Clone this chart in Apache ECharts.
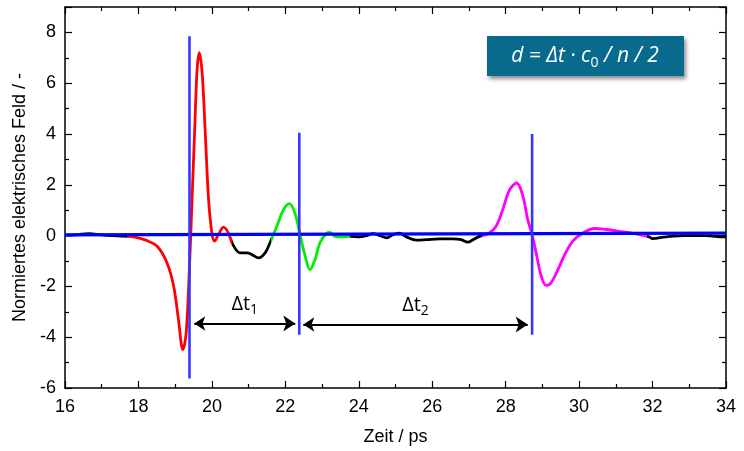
<!DOCTYPE html>
<html>
<head>
<meta charset="utf-8">
<script src="https://cdn.jsdelivr.net/npm/echarts@6/dist/echarts.min.js"></script>
<style>
  html, body { margin: 0; padding: 0; background: #fff; }
  #chart { width: 744px; height: 451px; }
</style>
</head>
<body>
<div id="chart"></div>
<script>
// Messkurve (Zeit in ps, normiertes Feld)
const zeit = [16.0, 16.3, 16.65, 17.0, 17.3, 17.6, 17.87, 18.2, 18.51, 18.78, 18.96, 19.09, 19.21, 19.30, 19.39,
  19.46, 19.54, 19.60, 19.66, 19.74, 19.82, 19.91, 20.00, 20.07, 20.18, 20.32, 20.45, 20.57, 20.77, 20.95, 21.09,
  21.27, 21.45, 21.58, 21.77, 21.95, 22.11, 22.26, 22.40, 22.54, 22.67, 22.81, 22.94, 23.13, 23.21, 23.35,
  23.53, 23.76, 24.03, 24.21, 24.39, 24.57, 24.76, 24.93, 25.10, 25.30, 25.57, 25.84, 26.20, 26.57, 26.79,
  26.97, 27.11, 27.29, 27.52, 27.74, 27.92, 28.11, 28.30, 28.47, 28.60, 28.72, 28.83, 28.97, 29.10, 29.24,
  29.42, 29.62, 29.83, 30.10, 30.42, 30.73, 31.09, 31.55, 31.91, 32.0, 32.36, 32.91, 33.45, 33.95, 34.0]
const feld = [0.02, 0.03, 0.08, 0.03, 0.0, -0.02, -0.05, -0.18, -0.42, -1.08, -2.0, -3.31, -4.49, -3.83, -1.21,
  1.42, 4.5, 6.6, 7.2, 6.3, 4.04, 1.42, 0.1, -0.22, 0.04, 0.33, 0.1, -0.35, -0.68, -0.68, -0.75,
  -0.88, -0.68, -0.29, 0.37, 1.02, 1.26, 0.89, 0.04, -0.81, -1.34, -0.94, -0.29, 0.1, 0.13, -0.03,
  -0.05, -0.03, -0.05, 0.0, 0.08, 0.0, -0.09, 0.04, 0.1, -0.05, -0.18, -0.16, -0.13, -0.13, -0.16,
  -0.26, -0.16, -0.03, 0.07, 0.37, 1.02, 1.81, 2.07, 1.55, 0.63, 0.04, -0.68, -1.6, -1.96, -1.85,
  -1.35, -0.72, -0.22, 0.1, 0.28, 0.24, 0.17, 0.07, -0.05, -0.12, -0.05, 0.0, 0.0, -0.05, -0.05]

// farbige Abschnitte (Grenzen in ps)
const abschnittGrenzen = [17.7, 20.55, 21.6, 23.75, 27.35, 31.85]
const abschnittFarben = ['#000000', '#ff0000', '#000000', '#00ee00', '#000000', '#ff00ff', '#000000']

// blaue Hilfslinien
const nullLinieT = [16, 34]
const nullLinieY = [0.03, 0.1]
const markerT = [19.39, 22.38, 28.72]
const markerUnten = [-5.63, -3.9, -3.9]
const markerOben = [7.85, 4.05, 4.0]

// Pfeile Δt
const pfeilStart = [19.52, 22.49]
const pfeilEnde = [22.27, 28.6]
const pfeilY = [-3.46, -3.5]
const pfeilIndex = ['1', '2']

const xTicks = { min: 16, max: 34, interval: 2 }
const yTicks = { min: -6, max: 9, interval: 2 }

const chart = echarts.init(document.getElementById('chart'))

const achse = (pos, isX, showLabel) => ({
  type: 'value',
  position: pos,
  min: isX ? xTicks.min : yTicks.min,
  max: isX ? xTicks.max : yTicks.max,
  interval: isX ? xTicks.interval : yTicks.interval,
  axisLine: { show: true, onZero: false, lineStyle: { color: '#000', width: 1.5 } },
  axisTick: { show: true, inside: true, length: 7, lineStyle: { color: '#000', width: 1.2 } },
  minorTick: { show: true, splitNumber: 2, length: 4, lineStyle: { color: '#000', width: 1.2 } },
  splitLine: { show: false },
  axisLabel: {
    show: showLabel,
    color: '#000',
    fontSize: 18,
    fontFamily: 'Liberation Sans, Arial, sans-serif',
    margin: isX ? 10 : 9,
    showMaxLabel: isX,
    formatter: v => (v % 2 === 0 ? String(v) : '')
  }
})

const pieces = abschnittFarben.map((c, i) => {
  const p = { color: c }
  if (i > 0) p.gte = abschnittGrenzen[i - 1]
  if (i < abschnittGrenzen.length) p.lt = abschnittGrenzen[i]
  return p
})

const series = [
  {
    type: 'line',
    data: zeit.map((t, i) => [t, feld[i]]),
    smooth: 0.35,
    showSymbol: false,
    lineStyle: { width: 2.8 },
    z: 2
  },
  {
    type: 'line',
    data: nullLinieT.map((t, i) => [t, nullLinieY[i]]),
    showSymbol: false,
    lineStyle: { color: '#0000ff', width: 3.2 },
    z: 3
  }
]
markerT.forEach((t, i) => {
  series.push({
    type: 'line',
    data: [[t, markerUnten[i]], [t, markerOben[i]]],
    showSymbol: false,
    lineStyle: { color: '#3535ff', width: 2.6 },
    z: 4
  })
})
series.push({
  type: 'lines',
  coordinateSystem: 'cartesian2d',
  symbol: ['arrow', 'arrow'],
  symbolSize: [11, 12],
  lineStyle: { color: '#000', width: 2.2, opacity: 1 },
  label: {
    show: true,
    position: 'insideMiddleTop',
    distance: 6,
    formatter: p => '{a|Δt}{b|' + p.data.idx + '}',
    rich: {
      a: { fontSize: 20, color: '#000', fontFamily: 'Open Sans, Noto Sans, sans-serif', lineHeight: 27 },
      b: { fontSize: 14, color: '#000', fontFamily: 'Open Sans, Noto Sans, sans-serif', lineHeight: 27, verticalAlign: 'bottom' }
    }
  },
  data: pfeilStart.map((s, i) => ({ coords: [[s, pfeilY[i]], [pfeilEnde[i], pfeilY[i]]], idx: pfeilIndex[i] })),
  z: 5
})

chart.setOption({
  animation: false,
  grid: { left: 65, right: 18, top: 7, bottom: 62 },
  xAxis: [
    Object.assign(achse('bottom', true, true), {
      name: 'Zeit / ps',
      nameLocation: 'middle',
      nameGap: 40,
      nameTextStyle: { color: '#000', fontSize: 18, fontFamily: 'Liberation Sans, Arial, sans-serif' }
    }),
    achse('top', true, false)
  ],
  yAxis: [
    Object.assign(achse('left', false, true), {
      name: 'Normiertes elektrisches Feld / -',
      nameLocation: 'middle',
      nameGap: 33,
      nameTextStyle: { color: '#000', fontSize: 18, fontFamily: 'Liberation Sans, Arial, sans-serif' }
    }),
    achse('right', false, false)
  ],
  visualMap: {
    show: false,
    type: 'piecewise',
    dimension: 0,
    seriesIndex: 0,
    pieces: pieces
  },
  graphic: [
    {
      type: 'group',
      left: 487,
      top: 36,
      children: [
        {
          type: 'rect',
          shape: { x: 0, y: 0, width: 197, height: 40 },
          style: { fill: '#086b8d', shadowBlur: 4, shadowOffsetX: 2, shadowOffsetY: 3, shadowColor: 'rgba(0,0,0,0.45)' }
        },
        {
          type: 'text',
          x: 98,
          y: 20,
          style: {
            text: '{i|d = Δt · c}{s|0}{i| / n / 2}',
            align: 'center',
            verticalAlign: 'middle',
            rich: {
              i: { fill: '#fff', fontSize: 21, fontStyle: 'italic', fontFamily: 'Open Sans, Noto Sans, sans-serif', lineHeight: 28 },
              s: { fill: '#fff', fontSize: 14, fontStyle: 'normal', fontFamily: 'Open Sans, Noto Sans, sans-serif', lineHeight: 28, verticalAlign: 'bottom' }
            }
          }
        }
      ]
    }
  ],
  series: series
})
</script>
</body>
</html>
